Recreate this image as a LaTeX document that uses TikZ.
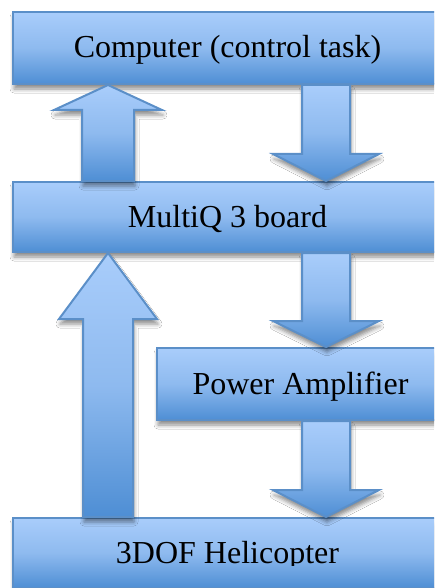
\documentclass[tikz,border=0pt]{standalone}
\usepackage{fontspec}
\setmainfont{Liberation Serif}
\usetikzlibrary{calc,shadows.blur}
\definecolor{cTop}{HTML}{A9CDFB}
\definecolor{cMid}{HTML}{8EBAEF}
\definecolor{cBot}{HTML}{4E8ED4}
\definecolor{cEdge}{HTML}{5B8FC8}
\tikzset{
  shadowed/.style={blur shadow={shadow xshift=1pt,shadow yshift=-5pt,shadow blur radius=4pt,shadow opacity=45}},
  boxfill/.style={top color=cTop,bottom color=cBot,middle color=cMid,draw=cEdge,line width=2pt},
  lbl/.style={inner sep=0pt,text height=22pt,text depth=2pt,font=\fontsize{32}{36}\selectfont},
  block/.style={boxfill,shadowed,rectangle,lbl,minimum height=#1},
  barrow/.style={boxfill,shadowed,line join=miter}
}
\newcommand\blockarrow[5]{%
  \path[barrow] let \p1=#1, \p2=#2, \n2={\y2-(\y2-\y1)/abs(\y2-\y1)*#5} in
    ({\x1-#3pt},\y1) -- ({\x1-#3pt},\n2) -- ({\x1-#4pt},\n2)
    -- (\x2,\y2) -- ({\x1+#4pt},\n2) -- ({\x1+#3pt},\n2)
    -- ({\x1+#3pt},\y1) -- cycle;}
\begin{document}
\begin{tikzpicture}[x=1pt,y=-1pt]
\useasboundingbox (0,0) rectangle (434,588);
\fill[white] (0,0) rectangle (434,588);
\clip (0,0) rectangle (434,588);
\coordinate (xl) at (108,0);
\coordinate (xr) at (326,0);
\node[block=72pt,minimum width=429pt] (comp) at (227.5,48) {Computer (control task)};
\node[block=70pt,minimum width=429pt] (mq) at (227.5,217) {MultiQ 3 board};
\node[block=72pt,minimum width=287pt] (pa) at (300.5,384) {Power Amplifier};
\node[block=70pt,minimum width=429pt] (heli) at (227.5,553) {};
\begin{scope}
  \clip (0,0) rectangle (434,565);
  \node[lbl] at (heli.center) {3DOF Helicopter};
\end{scope}
\blockarrow{(mq.north -| xl)}{(comp.south -| xl)}{26}{54}{25}
\blockarrow{(comp.south -| xr)}{(mq.north -| xr)}{24}{53}{27}
\blockarrow{(mq.south -| xr)}{(pa.north -| xr)}{24}{53}{26}
\blockarrow{(pa.south -| xr)}{(heli.north -| xr)}{24}{53}{27}
\blockarrow{(heli.north -| xl)}{(mq.south -| xl)}{25}{49}{66}
\end{tikzpicture}
\end{document}
